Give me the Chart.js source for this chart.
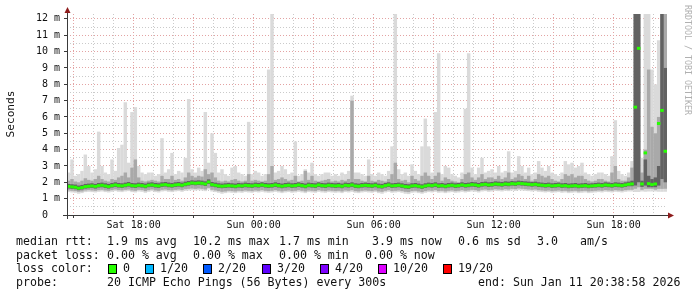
<!DOCTYPE html>
<html>
<head>
<meta charset="utf-8">
<script src="https://cdn.jsdelivr.net/npm/chart.js@4.4.1/dist/chart.umd.min.js"></script>
<style>
  html, body { margin: 0; padding: 0; background: #ffffff; }
  canvas { display: block; }
</style>
</head>
<body>
<canvas id="smoke" width="697" height="297"></canvas>
<script>
// smokeping style latency graph, 30 hours, one sample every 10 minutes

// first sample starts Sat 14:40 (hours counted from Sat 00:00)
var startHour = 14 + 40 / 60;
var stepHours = 10 / 60;

// x axis ticks (hours) and the labelled ones
var hourTicks = [15, 16, 17, 18, 19, 20, 21, 22, 23, 24, 25, 26, 27, 28, 29, 30,
  31, 32, 33, 34, 35, 36, 37, 38, 39, 40, 41, 42, 43, 44];
var majorTicks = [15, 18, 21, 24, 27, 30, 33, 36, 39, 42];
var tickNames = { 18: "Sat 18:00", 24: "Sun 00:00", 30: "Sun 06:00", 36: "Sun 12:00", 42: "Sun 18:00" };

// median rtt (ms)
var median = [
  1.75, 1.72, 1.70, 1.64, 1.68, 1.74, 1.76, 1.78, 1.75, 1.80,
  1.82, 1.78, 1.74, 1.80, 1.84, 1.80, 1.78, 1.82, 1.86, 1.80,
  1.78, 1.82, 1.80, 1.76, 1.82, 1.84, 1.80, 1.78, 1.84, 1.86,
  1.82, 1.80, 1.84, 1.86, 1.82, 1.88, 1.92, 1.96, 1.94, 1.96,
  1.94, 1.90, 2.02, 1.86, 1.82, 1.78, 1.76, 1.78, 1.80, 1.78,
  1.76, 1.80, 1.78, 1.82, 1.80, 1.78, 1.82, 1.80, 1.84, 1.80,
  1.78, 1.80, 1.84, 1.80, 1.76, 1.80, 1.82, 1.78, 1.80, 1.84,
  1.80, 1.76, 1.82, 1.80, 1.78, 1.84, 1.80, 1.78, 1.82, 1.80,
  1.78, 1.80, 1.76, 1.82, 1.80, 1.84, 1.78, 1.76, 1.80, 1.82,
  1.80, 1.78, 1.82, 1.76, 1.74, 1.80, 1.84, 1.78, 1.80, 1.82,
  1.78, 1.74, 1.72, 1.78, 1.80, 1.76, 1.72, 1.78, 1.82, 1.80,
  1.84, 1.78, 1.80, 1.76, 1.80, 1.82, 1.78, 1.80, 1.84, 1.80,
  1.82, 1.86, 1.84, 1.80, 1.86, 1.88, 1.84, 1.86, 1.90, 1.88,
  1.86, 1.90, 1.88, 1.92, 1.90, 1.94, 1.92, 1.90, 1.88, 1.86,
  1.88, 1.84, 1.82, 1.80, 1.82, 1.78, 1.80, 1.82, 1.78, 1.80,
  1.76, 1.78, 1.80, 1.76, 1.78, 1.80, 1.76, 1.78, 1.80, 1.82,
  1.80, 1.84, 1.82, 1.80, 1.84, 1.82, 1.80, 1.84, 1.88, 1.90,
  6.60, 10.2, 1.90, 3.80, 1.92, 1.86, 1.90, 5.60, 6.40, 3.90
];

// outer smoke: min and max ping
var pingMin = [
  1.40, 1.38, 1.36, 1.30, 1.34, 1.40, 1.42, 1.40, 1.38, 1.42,
  1.44, 1.40, 1.38, 1.42, 1.46, 1.42, 1.40, 1.44, 1.46, 1.40,
  1.38, 1.44, 1.42, 1.36, 1.42, 1.46, 1.40, 1.38, 1.44, 1.46,
  1.42, 1.40, 1.44, 1.46, 1.42, 1.48, 1.50, 1.52, 1.50, 1.52,
  1.50, 1.46, 1.56, 1.44, 1.40, 1.36, 1.30, 1.34, 1.38, 1.36,
  1.34, 1.38, 1.36, 1.40, 1.38, 1.36, 1.40, 1.38, 1.42, 1.38,
  1.36, 1.38, 1.42, 1.38, 1.34, 1.38, 1.40, 1.36, 1.38, 1.42,
  1.38, 1.34, 1.40, 1.38, 1.36, 1.42, 1.38, 1.36, 1.40, 1.38,
  1.36, 1.38, 1.34, 1.40, 1.38, 1.42, 1.36, 1.34, 1.38, 1.40,
  1.38, 1.36, 1.40, 1.34, 1.30, 1.38, 1.42, 1.36, 1.38, 1.40,
  1.36, 1.30, 1.28, 1.36, 1.38, 1.34, 1.30, 1.36, 1.40, 1.38,
  1.42, 1.36, 1.38, 1.34, 1.38, 1.40, 1.36, 1.38, 1.42, 1.38,
  1.40, 1.44, 1.42, 1.38, 1.44, 1.46, 1.42, 1.44, 1.48, 1.46,
  1.44, 1.48, 1.46, 1.50, 1.48, 1.52, 1.50, 1.48, 1.46, 1.44,
  1.46, 1.42, 1.40, 1.38, 1.40, 1.36, 1.38, 1.40, 1.36, 1.38,
  1.34, 1.36, 1.38, 1.34, 1.36, 1.38, 1.34, 1.36, 1.38, 1.40,
  1.38, 1.42, 1.40, 1.38, 1.42, 1.40, 1.38, 1.42, 1.44, 1.44,
  1.40, 1.40, 1.44, 1.42, 1.44, 1.44, 1.44, 1.42, 1.42, 1.42
];
var pingMax = [
  2.6, 3.4, 2.4, 2.5, 2.7, 3.7, 3.0, 2.6, 2.8, 5.1,
  3.0, 2.6, 2.5, 3.4, 2.7, 4.1, 4.3, 6.9, 3.2, 6.3,
  6.6, 3.0, 2.6, 2.5, 2.6, 2.6, 2.4, 2.5, 4.7, 2.6,
  2.8, 3.8, 2.5, 2.7, 2.6, 3.5, 7.1, 2.8, 2.6, 2.9,
  2.7, 6.3, 3.2, 5.0, 3.8, 2.6, 2.8, 2.5, 2.4, 2.9,
  3.0, 2.6, 2.5, 2.4, 5.7, 2.5, 2.7, 2.6, 2.4, 2.5,
  8.9, 12.5, 2.6, 2.7, 3.0, 2.8, 2.5, 2.6, 4.5, 2.4,
  2.5, 2.8, 2.6, 3.2, 2.5, 2.4, 2.5, 2.6, 2.6, 2.4,
  2.5, 2.4, 2.6, 2.5, 2.7, 7.3, 2.6, 2.6, 2.5, 2.4,
  3.4, 2.5, 2.4, 2.6, 2.5, 2.4, 2.7, 4.2, 12.5, 2.8,
  2.5, 2.6, 2.4, 3.1, 2.7, 2.5, 4.2, 5.9, 4.2, 2.6,
  6.3, 9.9, 2.5, 3.0, 2.9, 2.5, 2.4, 2.3, 2.6, 6.5,
  9.9, 2.9, 2.5, 2.9, 3.5, 2.6, 2.7, 2.8, 2.6, 3.0,
  2.6, 2.7, 3.9, 2.6, 2.7, 3.6, 3.0, 2.6, 2.9, 2.5,
  2.6, 3.3, 2.9, 2.7, 3.0, 2.6, 2.5, 2.4, 2.6, 3.3,
  3.1, 3.2, 2.9, 3.0, 3.2, 2.6, 2.5, 2.4, 2.5, 2.6,
  2.6, 2.5, 2.4, 3.6, 5.8, 2.7, 2.5, 2.4, 2.6, 3.3,
  13, 13, 3.5, 13, 12.5, 8.9, 8.0, 10.7, 13, 13
];

// middle smoke
var midLow = [
  1.50, 1.48, 1.46, 1.42, 1.44, 1.50, 1.52, 1.50, 1.48, 1.52,
  1.54, 1.50, 1.48, 1.52, 1.56, 1.52, 1.50, 1.54, 1.56, 1.50,
  1.48, 1.54, 1.52, 1.46, 1.52, 1.56, 1.50, 1.48, 1.54, 1.56,
  1.52, 1.50, 1.54, 1.56, 1.52, 1.58, 1.60, 1.62, 1.60, 1.62,
  1.60, 1.56, 1.66, 1.54, 1.50, 1.46, 1.42, 1.44, 1.48, 1.46,
  1.44, 1.48, 1.46, 1.50, 1.48, 1.46, 1.50, 1.48, 1.52, 1.48,
  1.46, 1.48, 1.52, 1.48, 1.44, 1.48, 1.50, 1.46, 1.48, 1.52,
  1.48, 1.44, 1.50, 1.48, 1.46, 1.52, 1.48, 1.46, 1.50, 1.48,
  1.46, 1.48, 1.44, 1.50, 1.48, 1.52, 1.46, 1.44, 1.48, 1.50,
  1.48, 1.46, 1.50, 1.44, 1.42, 1.48, 1.52, 1.46, 1.48, 1.50,
  1.46, 1.42, 1.40, 1.46, 1.48, 1.44, 1.40, 1.46, 1.50, 1.48,
  1.52, 1.46, 1.48, 1.44, 1.48, 1.50, 1.46, 1.48, 1.52, 1.48,
  1.50, 1.54, 1.52, 1.48, 1.54, 1.56, 1.52, 1.54, 1.58, 1.56,
  1.54, 1.58, 1.56, 1.60, 1.58, 1.62, 1.60, 1.58, 1.56, 1.54,
  1.56, 1.52, 1.50, 1.48, 1.50, 1.46, 1.48, 1.50, 1.46, 1.48,
  1.44, 1.46, 1.48, 1.44, 1.46, 1.48, 1.44, 1.46, 1.48, 1.50,
  1.48, 1.52, 1.50, 1.48, 1.52, 1.50, 1.48, 1.52, 1.54, 1.54,
  1.60, 1.70, 1.54, 1.60, 1.60, 1.60, 1.55, 1.60, 1.60, 1.60
];
var midHigh = [
  2.10, 2.20, 2.05, 2.00, 2.10, 2.25, 2.15, 2.10, 2.20, 2.40,
  2.20, 2.10, 2.05, 2.20, 2.15, 2.30, 2.40, 2.60, 2.30, 2.90,
  3.40, 2.30, 2.10, 2.05, 2.10, 2.15, 2.10, 2.05, 2.40, 2.20,
  2.20, 2.40, 2.15, 2.20, 2.10, 2.30, 2.60, 2.40, 2.30, 2.40,
  2.35, 2.80, 2.50, 2.60, 2.30, 2.10, 2.05, 2.10, 2.05, 2.15,
  2.20, 2.10, 2.05, 2.10, 2.50, 2.10, 2.15, 2.10, 2.05, 2.10,
  2.50, 3.00, 2.15, 2.20, 2.30, 2.20, 2.10, 2.15, 2.40, 2.05,
  2.10, 2.70, 2.15, 2.40, 2.10, 2.05, 2.10, 2.15, 2.20, 2.05,
  2.10, 2.05, 2.15, 2.10, 2.20, 7.00, 2.20, 2.20, 2.10, 2.05,
  2.40, 2.10, 2.05, 2.15, 2.10, 2.05, 2.20, 2.50, 3.20, 2.20,
  2.10, 2.15, 2.00, 2.40, 2.20, 2.10, 2.40, 2.60, 2.40, 2.20,
  2.40, 2.60, 2.10, 2.30, 2.20, 2.10, 2.05, 2.00, 2.20, 2.50,
  2.60, 2.30, 2.15, 2.30, 2.50, 2.20, 2.30, 2.30, 2.20, 2.40,
  2.20, 2.30, 2.60, 2.20, 2.30, 2.50, 2.40, 2.20, 2.40, 2.10,
  2.20, 2.50, 2.40, 2.30, 2.40, 2.20, 2.10, 2.05, 2.20, 2.50,
  2.40, 2.50, 2.30, 2.40, 2.40, 2.20, 2.10, 2.05, 2.10, 2.20,
  2.20, 2.10, 2.05, 2.60, 3.00, 2.20, 2.10, 2.10, 2.30, 2.90,
  13, 13, 2.60, 4.00, 8.90, 5.40, 5.00, 6.00, 13, 13
];

// inner (dark) smoke
var coreLow = [
  1.62, 1.60, 1.58, 1.52, 1.56, 1.62, 1.64, 1.66, 1.62, 1.68,
  1.70, 1.66, 1.62, 1.68, 1.72, 1.68, 1.66, 1.70, 1.74, 1.68,
  1.66, 1.70, 1.68, 1.64, 1.70, 1.72, 1.68, 1.66, 1.72, 1.74,
  1.70, 1.68, 1.72, 1.74, 1.70, 1.76, 1.80, 1.84, 1.82, 1.84,
  1.82, 1.78, 1.90, 1.74, 1.70, 1.66, 1.64, 1.66, 1.68, 1.66,
  1.64, 1.68, 1.66, 1.70, 1.68, 1.66, 1.70, 1.68, 1.72, 1.68,
  1.66, 1.68, 1.72, 1.68, 1.64, 1.68, 1.70, 1.66, 1.68, 1.72,
  1.68, 1.64, 1.70, 1.68, 1.66, 1.72, 1.68, 1.66, 1.70, 1.68,
  1.66, 1.68, 1.64, 1.70, 1.68, 1.72, 1.66, 1.64, 1.68, 1.70,
  1.68, 1.66, 1.70, 1.64, 1.62, 1.68, 1.72, 1.66, 1.68, 1.70,
  1.66, 1.62, 1.60, 1.66, 1.68, 1.64, 1.60, 1.66, 1.70, 1.68,
  1.72, 1.66, 1.68, 1.64, 1.68, 1.70, 1.66, 1.68, 1.72, 1.68,
  1.70, 1.74, 1.72, 1.68, 1.74, 1.76, 1.72, 1.74, 1.78, 1.76,
  1.74, 1.78, 1.76, 1.80, 1.78, 1.82, 1.80, 1.78, 1.76, 1.74,
  1.76, 1.72, 1.70, 1.68, 1.70, 1.66, 1.68, 1.70, 1.66, 1.68,
  1.64, 1.66, 1.68, 1.64, 1.66, 1.68, 1.64, 1.66, 1.68, 1.70,
  1.68, 1.72, 1.70, 1.68, 1.72, 1.70, 1.68, 1.72, 1.76, 1.76,
  1.80, 2.00, 1.72, 1.80, 1.70, 1.70, 1.70, 1.80, 2.20, 2.00
];
var coreHigh = [
  1.90, 1.88, 1.86, 1.80, 1.84, 1.90, 1.92, 1.94, 1.90, 1.96,
  1.98, 1.94, 1.90, 1.96, 2.00, 1.96, 1.94, 1.98, 2.02, 1.96,
  1.94, 1.98, 1.96, 1.92, 1.98, 2.00, 1.96, 1.94, 2.00, 2.02,
  1.98, 1.96, 2.00, 2.02, 1.98, 2.04, 2.08, 2.12, 2.10, 2.12,
  2.10, 2.06, 2.18, 2.02, 1.98, 1.94, 1.92, 1.94, 1.96, 1.94,
  1.92, 1.96, 1.94, 1.98, 1.96, 1.94, 1.98, 1.96, 2.00, 1.96,
  1.94, 1.96, 2.00, 1.96, 1.92, 1.96, 1.98, 1.94, 1.96, 2.00,
  1.96, 1.92, 1.98, 1.96, 1.94, 2.00, 1.96, 1.94, 1.98, 1.96,
  1.94, 1.96, 1.92, 1.98, 1.96, 2.00, 1.94, 1.92, 1.96, 1.98,
  1.96, 1.94, 1.98, 1.92, 1.90, 1.96, 2.00, 1.94, 1.96, 1.98,
  1.94, 1.90, 1.88, 1.94, 1.96, 1.92, 1.88, 1.94, 1.98, 1.96,
  2.00, 1.94, 1.96, 1.92, 1.96, 1.98, 1.94, 1.96, 2.00, 1.96,
  1.98, 2.02, 2.00, 1.96, 2.02, 2.04, 2.00, 2.02, 2.06, 2.04,
  2.02, 2.06, 2.04, 2.08, 2.06, 2.10, 2.08, 2.06, 2.04, 2.02,
  2.04, 2.00, 1.98, 1.96, 1.98, 1.94, 1.96, 1.98, 1.94, 1.96,
  1.92, 1.94, 1.96, 1.92, 1.94, 1.96, 1.92, 1.94, 1.96, 1.98,
  1.96, 2.00, 1.98, 1.96, 2.00, 1.98, 1.96, 2.00, 2.04, 2.10,
  13, 13, 2.10, 3.40, 2.40, 2.20, 2.30, 3.00, 13, 9.0
];

// loss color legend
var lossLabels = ["0", "1/20", "2/20", "3/20", "4/20", "10/20", "19/20"];
var lossColors = ["#26ff00", "#00b8ff", "#0059ff", "#5e00ff", "#7e00ff", "#dd00ff", "#ff0000"];

var FONT = '"DejaVu Sans Mono", "Liberation Mono", monospace';
var MEDIAN_HALF = 0.09; // half height of the median marker, in ms

function xOf(i) {
  return startHour + (i + 0.5) * stepHours;
}

function band(lo, hi) {
  return lo.map(function (v, i) { return { x: xOf(i), y: [v, hi[i]] }; });
}

function medianBoxes() {
  return median.map(function (v, i) { return { x: xOf(i), y: [v - MEDIAN_HALF, v + MEDIAN_HALF] }; });
}

var barCommon = {
  grouped: false,
  barPercentage: 1.04,
  categoryPercentage: 1,
  borderWidth: 0,
  borderSkipped: false
};

function ds(data, color, order) {
  return Object.assign({ data: data, backgroundColor: color, order: order }, barCommon);
}

// axes, arrows, side labels and the legend block under the graph
var rrdDecor = {
  id: "rrdDecor",
  afterDraw: function (chart) {
    var c = chart.ctx;
    var a = chart.chartArea;
    c.save();

    // axis lines
    c.strokeStyle = "#3a3a3a";
    c.lineWidth = 1;
    c.beginPath();
    c.moveTo(a.left - 4, a.bottom + 0.5);
    c.lineTo(a.right + 2, a.bottom + 0.5);
    c.moveTo(a.left + 0.5, a.bottom + 4);
    c.lineTo(a.left + 0.5, a.top - 5);
    c.stroke();

    // arrows
    c.fillStyle = "#8e1c1c";
    c.beginPath();
    c.moveTo(a.left - 2.5, a.top - 1);
    c.lineTo(a.left + 3.5, a.top - 1);
    c.lineTo(a.left + 0.5, a.top - 7);
    c.closePath();
    c.fill();
    c.beginPath();
    c.moveTo(a.right + 1, a.bottom - 2.5);
    c.lineTo(a.right + 1, a.bottom + 3.5);
    c.lineTo(a.right + 7, a.bottom + 0.5);
    c.closePath();
    c.fill();

    // unit label
    c.fillStyle = "#111";
    c.font = "11.2px " + FONT;
    c.textAlign = "center";
    c.textBaseline = "middle";
    c.save();
    c.translate(11, 114);
    c.rotate(-Math.PI / 2);
    c.fillText("Seconds", 0, 0);
    c.restore();

    // watermark
    c.save();
    c.fillStyle = "#b0b0b0";
    c.font = "8.3px " + FONT;
    c.textAlign = "left";
    c.translate(687, 5);
    c.rotate(Math.PI / 2);
    c.fillText("RRDTOOL / TOBI OETIKER", 0, 0);
    c.restore();

    // legend text
    c.font = "11.6px " + FONT;
    c.textAlign = "left";
    c.textBaseline = "alphabetic";
    c.fillStyle = "#111";
    var rows = [
      [244.5, [[16, "median rtt:"], [107, "1.9 ms avg"], [193, "10.2 ms max"], [279, "1.7 ms min"],
        [372, "3.9 ms now"], [458, "0.6 ms sd"], [537, "3.0"], [580, "am/s"]]],
      [258.5, [[16, "packet loss:"], [107, "0.00 % avg"], [193, "0.00 % max"], [279, "0.00 % min"],
        [365, "0.00 % now"]]],
      [272, [[16, "loss color:"]]],
      [286, [[16, "probe:"], [107, "20 ICMP Echo Pings (56 Bytes) every 300s"], [478, "end: Sun Jan 11 20:38:58 2026"]]]
    ];
    rows.forEach(function (r) {
      r[1].forEach(function (t) { c.fillText(t[1], t[0], r[0]); });
    });

    // loss color swatches
    var boxX = [108, 145, 203, 262, 320, 378, 443];
    lossLabels.forEach(function (lab, i) {
      c.fillStyle = lossColors[i];
      c.fillRect(boxX[i], 264, 9, 10);
      c.strokeStyle = "#000";
      c.strokeRect(boxX[i] + 0.5, 264.5, 8, 9);
      c.fillStyle = "#111";
      c.fillText(lab, boxX[i] + 15, 272);
    });

    c.restore();
  }
};

document.addEventListener("DOMContentLoaded", function () {
  var ctx = document.getElementById("smoke").getContext("2d");

  var majorRed = "#e3a3a3";
  var minorGray = "#cacaca";

  new Chart(ctx, {
    type: "bar",
    data: {
      datasets: [
        ds(medianBoxes(), lossColors[0], 0),
        ds(band(coreLow, coreHigh), "#626262", 1),
        ds(band(midLow, midHigh), "#a9a9a9", 2),
        ds(band(pingMin, pingMax), "#dadada", 3)
      ]
    },
    options: {
      responsive: false,
      animation: false,
      events: [],
      layout: { padding: { top: 14, right: 30, left: 0, bottom: 0 } },
      plugins: { legend: { display: false }, tooltip: { enabled: false } },
      scales: {
        x: {
          type: "linear",
          min: startHour,
          max: startHour + 30,
          offset: false,
          afterFit: function (s) { s.height = 82; },
          afterBuildTicks: function (s) {
            s.ticks = hourTicks.map(function (h) { return { value: h }; });
          },
          grid: {
            offset: false,
            color: function (c) { return majorTicks.indexOf(c.tick.value) >= 0 ? majorRed : minorGray; },
            tickColor: function (c) { return majorTicks.indexOf(c.tick.value) >= 0 ? "#3a3a3a" : "rgba(0,0,0,0)"; },
            tickLength: 3
          },
          border: { display: false, dash: [1, 2] },
          ticks: {
            autoSkip: false,
            maxRotation: 0,
            minRotation: 0,
            padding: 1,
            color: "#111",
            font: { family: FONT, size: 10 },
            callback: function (v) { return tickNames[v] || ""; }
          }
        },
        y: {
          min: 0,
          max: 12.3,
          afterFit: function (s) { s.width = 67; },
          grid: {
            color: function (c) {
              var v = c.tick.value;
              if (v === 0) return "rgba(0,0,0,0)";
              return Number.isInteger(v) ? majorRed : minorGray;
            },
            tickColor: function (c) { return Number.isInteger(c.tick.value) ? "#3a3a3a" : "rgba(0,0,0,0)"; },
            tickLength: 3
          },
          border: { display: false, dash: [1, 2] },
          ticks: {
            stepSize: 0.5,
            includeBounds: false,
            autoSkip: false,
            padding: 4,
            color: "#111",
            font: { family: FONT, size: 10 },
            callback: function (v) {
              if (!Number.isInteger(v)) return "";
              return v === 0 ? "0  " : v + " m";
            }
          }
        }
      }
    },
    plugins: [rrdDecor]
  });
});
</script>
</body>
</html>
